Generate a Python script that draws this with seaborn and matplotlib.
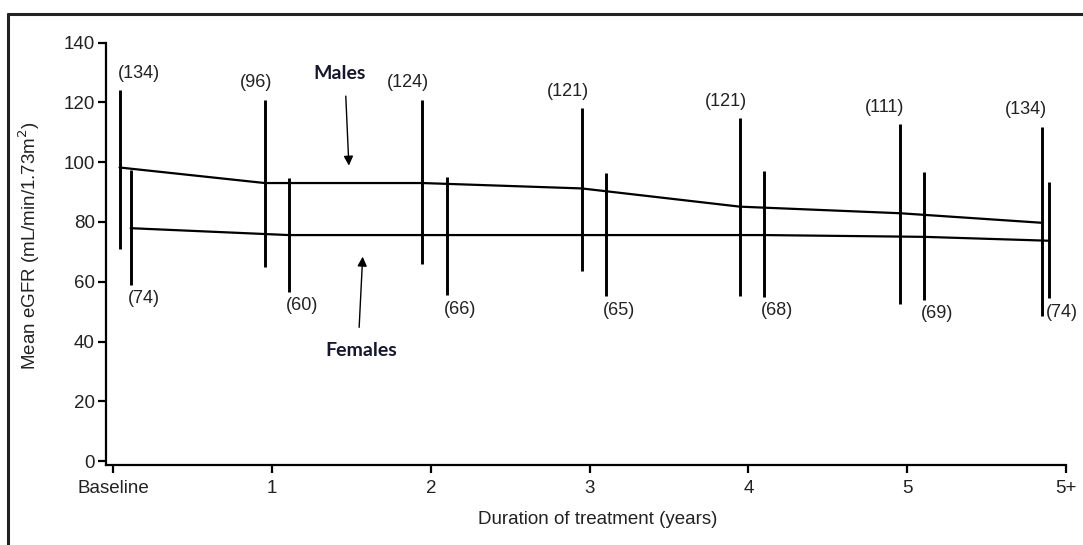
import pandas as pd
import matplotlib
matplotlib.use('Agg')
import matplotlib.pyplot as plt
from matplotlib.lines import Line2D
import seaborn as sns

# data
timepoints = ['Baseline', '1', '2', '3', '4', '5', '5+']
male_mean = [98.2, 93.0, 93.0, 91.2, 85.1, 82.9, 79.7]
male_upper = [124.1, 120.8, 120.8, 118.0, 114.7, 112.6, 111.8]
male_lower = [70.8, 65.0, 65.9, 63.7, 55.2, 52.4, 48.5]
male_n = [134, 96, 124, 121, 121, 111, 134]
female_mean = [77.9, 75.6, 75.6, 75.6, 75.6, 75.0, 73.7]
female_upper = [97.4, 94.6, 95.1, 96.3, 97.0, 96.6, 93.2]
female_lower = [58.9, 56.6, 55.5, 55.2, 55.0, 53.9, 54.4]
female_n = [74, 60, 66, 65, 68, 69, 74]

# small horizontal dodge so the two groups don't overlap
male_dodge = [0.04, -0.045, -0.053, -0.05, -0.053, -0.045, -0.15]
female_dodge = [0.11, 0.105, 0.10, 0.104, 0.10, 0.108, -0.105]
male_label_dx = [19, -9, -14, -14, -14, -15, -16]

idx = list(range(len(timepoints)))
df = pd.DataFrame({
    'x': [i + d for i, d in zip(idx, male_dodge)] + [i + d for i, d in zip(idx, female_dodge)],
    'egfr': male_mean + female_mean,
    'lo': male_lower + female_lower,
    'hi': male_upper + female_upper,
    'n': male_n + female_n,
    'sex': ['Males'] * 7 + ['Females'] * 7,
})

sns.set_style('ticks')
plt.rcParams['font.family'] = ['Liberation Sans', 'DejaVu Sans']

fig = plt.figure(figsize=(10.83, 5.45), dpi=100)
ax = fig.add_axes([0.0979, 0.1468, 0.8864, 0.7752])

sns.lineplot(data=df, x='x', y='egfr', hue='sex', palette=['black', 'black'],
             linewidth=1.6, legend=False, ax=ax, sort=True)
ax.vlines(df['x'], df['lo'], df['hi'], color='black', linewidth=2.1)

# n labels
for i, row in df[df['sex'] == 'Males'].reset_index(drop=True).iterrows():
    ax.annotate(f"({row['n']})", (row['x'], row['hi']), xytext=(male_label_dx[i], 17),
                textcoords='offset pixels', ha='center', va='center', fontsize=13,
                color='#222222', annotation_clip=False)
for i, row in df[df['sex'] == 'Females'].reset_index(drop=True).iterrows():
    ax.annotate(f"({row['n']})", (row['x'], row['lo']), xytext=(13, -14),
                textcoords='offset pixels', ha='center', va='center', fontsize=13,
                color='#222222', annotation_clip=False)

# group call-outs
ax.annotate('', xy=(1.485, 97.9), xytext=(1.464, 123.0),
            arrowprops=dict(arrowstyle='-|>', color='black', lw=1, mutation_scale=14))
ax.text(1.428, 129.5, 'Males', ha='center', va='center', fontsize=14,
        fontweight='bold', family='Lato', color='#16162e')
ax.annotate('', xy=(1.572, 69.3), xytext=(1.548, 43.8),
            arrowprops=dict(arrowstyle='-|>', color='black', lw=1, mutation_scale=14))
ax.text(1.561, 37.1, 'Females', ha='center', va='center', fontsize=14,
        fontweight='bold', family='Lato', color='#16162e')

ax.set_xlim(-0.045, 6.0)
ax.set_ylim(-1.3, 140)
ax.set_xticks(idx)
ax.set_xticklabels(timepoints)
ax.set_yticks(range(0, 141, 20))
ax.tick_params(axis='both', direction='out', length=6, width=1.6, color='black',
               labelsize=13.5, labelcolor='#222222')
ax.tick_params(axis='x', pad=5)
ax.tick_params(axis='y', pad=2)
sns.despine(ax=ax)
for s in ['left', 'bottom']:
    ax.spines[s].set_linewidth(1.6)
    ax.spines[s].set_color('black')

ax.set_xlabel('Duration of treatment (years)', fontsize=13.5, color='#222222')
ax.set_ylabel('Mean eGFR (mL/min/1.73m$^2$)', fontsize=13.5, color='#222222')
ax.xaxis.set_label_coords(0.5125, -0.11)
ax.yaxis.set_label_coords(-0.067, 0.52)

# frame around the figure (top and left edges only)
fig.add_artist(Line2D([0.0074, 1.0], [0.975, 0.975], transform=fig.transFigure,
                      color='#222222', linewidth=2.2))
fig.add_artist(Line2D([0.0074, 0.0074], [0.0, 0.975], transform=fig.transFigure,
                      color='#222222', linewidth=2.2))

fig.savefig('out.png', dpi=100)
